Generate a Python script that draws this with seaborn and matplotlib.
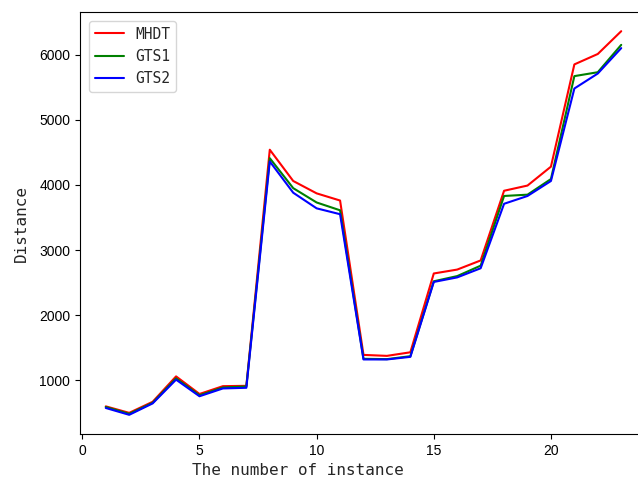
import matplotlib
matplotlib.use("Agg")
import matplotlib.pyplot as plt
import seaborn as sns

instances = list(range(1, 24))
mhdt = [600, 500, 670, 1060, 790, 910, 915, 4540, 4060, 3870, 3760, 1390, 1375, 1430,
        2640, 2700, 2840, 3910, 3990, 4280, 5850, 6010, 6360]
gts1 = [590, 485, 655, 1030, 770, 890, 905, 4410, 3950, 3730, 3610, 1330, 1325, 1370,
        2520, 2600, 2760, 3830, 3850, 4090, 5670, 5730, 6150]
gts2 = [575, 470, 645, 1010, 755, 875, 885, 4360, 3880, 3640, 3550, 1320, 1320, 1360,
        2510, 2580, 2720, 3710, 3830, 4060, 5480, 5710, 6100]
series_names = ["MHDT", "GTS1", "GTS2"]
series_colors = ["red", "green", "blue"]

sns.set_style("ticks")
mono = ["DejaVu Sans Mono"]

fig = plt.figure(figsize=(6.38, 4.83), dpi=100)
W, H = 638, 483
ax = fig.add_axes([80 / W, (H - 434) / H, (647 - 80) / W, (434 - 12) / H])

for name, vals, col in zip(series_names, [mhdt, gts1, gts2], series_colors):
    sns.lineplot(x=instances, y=vals, color=col, label=name, ax=ax, linewidth=1.5)

ax.set_xlim(-0.1, 24.1)
ax.set_xticks([0, 5, 10, 15, 20])
ax.set_yticks([1000, 2000, 3000, 4000, 5000, 6000])
for lab in ax.get_xticklabels() + ax.get_yticklabels():
    lab.set_fontfamily("Liberation Sans")
    lab.set_fontsize(10)
ax.tick_params(axis="both", colors="black", length=3.5, width=0.8)

ax.set_xlabel("The number of instance", fontfamily=mono, fontsize=11.5, x=0.384)
ax.set_ylabel("Distance", fontfamily=mono, fontsize=11.5)
ax.yaxis.set_label_coords(-0.09, 0.5)
for name_s, s in ax.spines.items():
    s.set_visible(name_s != "right")
    s.set_color("black")
    s.set_linewidth(0.8)

ax.legend(loc="upper left", prop={"family": mono, "size": 10.5},
          borderaxespad=0.6)

fig.savefig("out.png", dpi=100)
